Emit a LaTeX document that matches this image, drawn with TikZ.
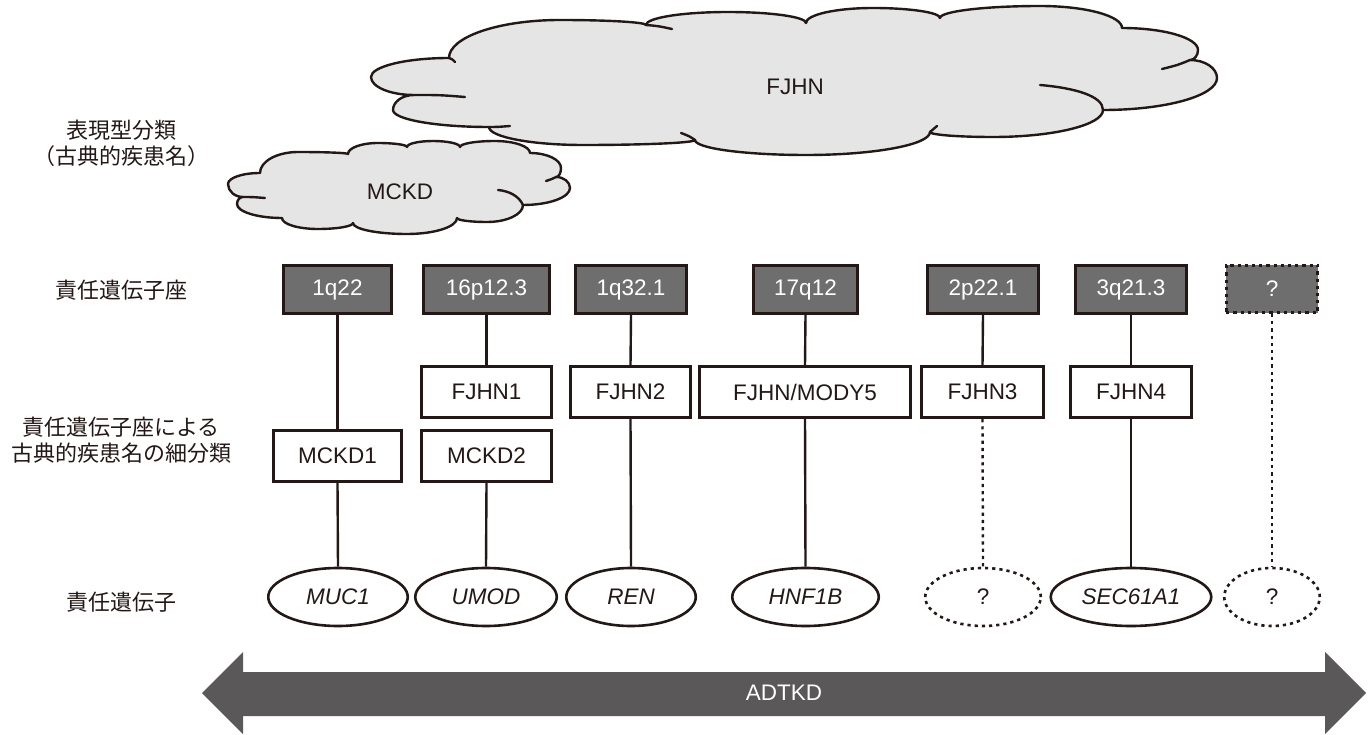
\documentclass[tikz,border=0pt]{standalone}
\usepackage{fontspec}
\usetikzlibrary{shapes.geometric}
\newfontfamily\latinface{Liberation Sans}
\newfontfamily\jpface{Noto Sans CJK JP}
\definecolor{ink}{HTML}{231815}
\definecolor{boxgray}{HTML}{6E6E6E}
\definecolor{cloudgray}{HTML}{E5E5E5}
\definecolor{arrowgray}{HTML}{5A5858}
\begin{document}
\begin{tikzpicture}[x=1pt,y=-1pt,
  latin/.style={font=\latinface\fontsize{22.5pt}{26pt}\selectfont},
  rowlabel/.style={font=\jpface\fontsize{22pt}{26pt}\selectfont, align=center, text=ink},
  locus/.style={latin, draw=ink, fill=boxgray, text=white, line width=2.6pt,
    minimum height=48.5pt, inner sep=0pt},
  subtype/.style={latin, draw=ink, fill=white, text=ink, line width=2.6pt,
    minimum height=51.5pt, inner sep=0pt},
  gene/.style={ellipse, draw=ink, fill=white, text=ink, line width=2.6pt,
    minimum height=58pt, inner sep=0pt,
    font=\latinface\itshape\fontsize{22.5pt}{26pt}\selectfont},
  unknown/.style={dash pattern=on 3.2pt off 4pt},
  link/.style={draw=ink, line width=2.4pt},
  puff/.style={draw=ink, line width=2.4pt, fill=cloudgray, line join=round},
  tail/.style={draw=ink, line width=2.4pt, line cap=round}
]
\useasboundingbox (0,0) rectangle (1370,735);

% ---- phenotype clouds ----
\path[puff] (414,95)
  .. controls (390.3,95) and (371,86.9) .. (371,77)
  .. controls (371,66.5) and (406,58) .. (449,58)
  .. controls (449,37) and (498.7,20) .. (560,20)
  .. controls (607.5,20) and (646,22.2) .. (646,25)
  .. controls (646,17.8) and (682.7,12) .. (728,12)
  .. controls (771,12) and (806,16.9) .. (806,23)
  .. controls (806,14.7) and (836,8) .. (873,8)
  .. controls (910,8) and (940,12.5) .. (940,18)
  .. controls (940,11.4) and (984.8,6) .. (1040,6)
  .. controls (1085.3,6) and (1122,15.9) .. (1122,28)
  .. controls (1164,28) and (1198,37.9) .. (1198,50)
  .. controls (1198,55.5) and (1194.4,60) .. (1190,60)
  .. controls (1204.9,60) and (1217,68.1) .. (1217,78)
  .. controls (1217,95.7) and (1165.9,110) .. (1103,110)
  .. controls (1103,124.9) and (1053.7,137) .. (993,137)
  .. controls (958.2,137) and (930,134.8) .. (930,132)
  .. controls (930,144.7) and (874.4,155) .. (806,155)
  .. controls (744.7,155) and (695,148.3) .. (695,140)
  .. controls (695,142.8) and (644.8,145) .. (583,145)
  .. controls (531.1,145) and (489,136.9) .. (489,127)
  .. controls (436,127) and (393,119.4) .. (393,110)
  .. controls (393,101.7) and (402.4,95) .. (414,95) -- cycle;
\draw[tail] (414,95) .. controls (440,95) .. (465,97);
\draw[tail] (449,58) .. controls (452,59) .. (455,62);
\draw[tail] (646,25) .. controls (658,26) .. (672,29);
\draw[tail] (1190,60) .. controls (1178,65) .. (1162,69);
\draw[tail] (1103,110) .. controls (1103,96) and (1075,88) .. (1040,85);
\draw[tail] (930,132) .. controls (933,129) .. (937,126);
\draw[tail] (695,140) .. controls (689,136) .. (681,133);
\draw[tail] (489,127) .. controls (497,127) .. (510,126);
\node[latin, text=ink] (fjhn) at (795,87) {FJHN};

\path[puff] (260,173)
  .. controls (260,161.4) and (277,152) .. (298,152)
  .. controls (325.6,152) and (348,152.9) .. (348,154)
  .. controls (348,147.9) and (361.4,143) .. (378,143)
  .. controls (394,143) and (407,144.8) .. (407,147)
  .. controls (407,143.7) and (418.6,141) .. (433,141)
  .. controls (447.9,141) and (460,143.7) .. (460,147)
  .. controls (460,143.7) and (475.7,141) .. (495,141)
  .. controls (514.3,141) and (530,146.4) .. (530,153)
  .. controls (547.1,153) and (561,159.7) .. (561,168)
  .. controls (561,173) and (558.8,177) .. (556,177)
  .. controls (563.7,177) and (570,181.9) .. (570,188)
  .. controls (570,197.4) and (548.9,205) .. (523,205)
  .. controls (523,214.4) and (506.9,222) .. (487,222)
  .. controls (470.4,222) and (457,220.2) .. (457,218)
  .. controls (457,226.8) and (434.6,234) .. (407,234)
  .. controls (377.2,234) and (353,229.1) .. (353,223)
  .. controls (353,226.3) and (337.3,229) .. (318,229)
  .. controls (298.1,229) and (282,224.1) .. (282,218)
  .. controls (257.2,218) and (237,211.7) .. (237,204)
  .. controls (237,200.1) and (239.7,197) .. (243,197)
  .. controls (234.7,197) and (228,191.2) .. (228,184)
  .. controls (228,177.9) and (242.3,173) .. (260,173) -- cycle;
\draw[tail] (556,177) .. controls (552,179) .. (546,181);
\draw[tail] (523,205) .. controls (519,196) and (509,191) .. (498,190);
\draw[tail] (243,197) .. controls (252,197) .. (265,198);
\node[latin, text=ink] (mckd) at (400,192) {MCKD};

% ---- row labels ----
\node[rowlabel] (lab1) at (121,143) {表現型分類\\（古典的疾患名）};
\node[rowlabel] (lab2) at (121,290) {責任遺伝子座};
\node[rowlabel] (lab3) at (121,440) {責任遺伝子座による\\古典的疾患名の細分類};
\node[rowlabel] (lab4) at (121,602) {責任遺伝子};

% ---- loci ----
\node[locus, minimum width=108.5pt] (l1) at (337.5,289.5) {1q22};
\node[locus, minimum width=126.5pt] (l2) at (486.5,289.5) {16p12.3};
\node[locus, minimum width=111.5pt] (l3) at (631,289.5) {1q32.1};
\node[locus, minimum width=104.5pt] (l4) at (805.5,289.5) {17q12};
\node[locus, minimum width=111.5pt] (l5) at (983,289.5) {2p22.1};
\node[locus, minimum width=111.5pt] (l6) at (1131,289.5) {3q21.3};
\node[locus, unknown, minimum width=91.5pt, minimum height=47.5pt] (l7) at (1272,289) {?};

% ---- subtypes ----
\node[subtype, minimum width=130.5pt] (s2) at (486.5,392) {FJHN1};
\node[subtype, minimum width=120.5pt] (s3) at (630.5,392) {FJHN2};
\node[subtype, minimum width=211.5pt] (s4) at (805,392) {FJHN/MODY5};
\node[subtype, minimum width=122.5pt] (s5) at (982.5,392) {FJHN3};
\node[subtype, minimum width=121.5pt] (s6) at (1131,392) {FJHN4};
\node[subtype, minimum width=128.5pt] (m1) at (337.5,456) {MCKD1};
\node[subtype, minimum width=130.5pt] (m2) at (486.5,456) {MCKD2};

% ---- genes ----
\node[gene, minimum width=139.5pt] (g1) at (338,597) {MUC1};
\node[gene, minimum width=141.5pt] (g2) at (486,597) {UMOD};
\node[gene, minimum width=129.5pt] (g3) at (631,597) {REN};
\node[gene, minimum width=146.5pt] (g4) at (805.5,597) {HNF1B};
\node[gene, unknown, minimum width=115.5pt] (g5) at (983,597) {\upshape ?};
\node[gene, minimum width=160.5pt] (g6) at (1131,597) {SEC61A1};
\node[gene, unknown, minimum width=95.5pt] (g7) at (1272,597) {\upshape ?};

% ---- connectors ----
\draw[link] (l1.south) -- (m1.north);
\draw[link] (m1.south) -- (g1.north);
\draw[link] (l2.south) -- (s2.north);
\draw[link] (m2.south) -- (g2.north);
\draw[link] (l3.south) -- (s3.north);
\draw[link] (s3.south) -- (g3.north);
\draw[link] (l4.south) -- (s4.north);
\draw[link] (s4.south) -- (g4.north);
\draw[link] (l5.south) -- (s5.north);
\draw[link, unknown] (s5.south) -- (g5.north);
\draw[link] (l6.south) -- (s6.north);
\draw[link] (s6.south) -- (g6.north);
\draw[link, unknown] (l7.south) -- (g7.north);

% ---- ADTKD span arrow ----
\fill[arrowgray] (202,693) -- (243,652) -- (243,672) -- (1325,672) -- (1325,652)
  -- (1366,693) -- (1325,734) -- (1325,716) -- (243,716) -- (243,734) -- cycle;
\node[latin, text=white] (adtkd) at (784,693) {ADTKD};
\end{tikzpicture}
\end{document}
